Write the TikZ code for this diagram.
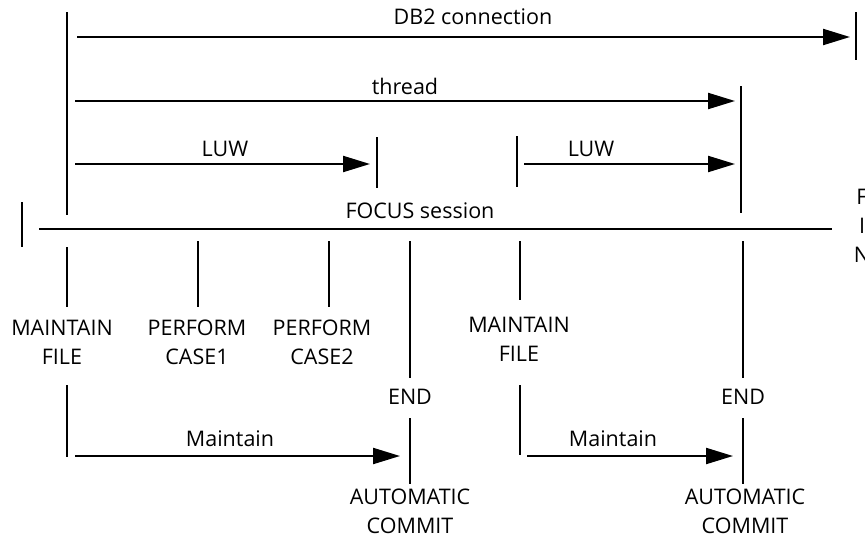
\documentclass[tikz,border=0pt]{standalone}
\usepackage{fontspec}
\setmainfont{Open Sans}
\usetikzlibrary{arrows.meta}
\begin{document}
\begin{tikzpicture}[x=1pt,y=-1pt,
  ln/.style={line width=2.2pt},
  arr/.style={line width=2.2pt,-{Triangle[length=27pt,width=16pt]}},
  lbl/.style={font=\fontsize{21.5}{29}\selectfont,align=center,inner sep=0pt}]
\useasboundingbox (0,0) rectangle (865,538);
% coordinates
\coordinate (mT) at (67,12);
\coordinate (mB) at (67,215);
\coordinate (dbS) at (77,37);
\coordinate (dbE) at (850,37);
\coordinate (dbT) at (856,12);
\coordinate (dbB) at (856,60);
\coordinate (thS) at (75,101);
\coordinate (thE) at (735,101);
\coordinate (thT) at (741,86);
\coordinate (thB) at (741,213);
\coordinate (l1S) at (75,164);
\coordinate (l1E) at (370,164);
\coordinate (l1T) at (377,137);
\coordinate (l1B) at (377,188);
\coordinate (l2T) at (517,136);
\coordinate (l2B) at (517,187);
\coordinate (l2S) at (524,164);
\coordinate (l2E) at (735,164);
\coordinate (sT) at (22,202);
\coordinate (sB) at (22,247);
\coordinate (fS) at (39,229);
\coordinate (fE) at (832,229);
% lines
\draw[ln] (mT) -- (mB);
\draw[arr] (dbS) -- (dbE);
\draw[ln] (dbT) -- (dbB);
\draw[arr] (thS) -- (thE);
\draw[ln] (thT) -- (thB);
\draw[arr] (l1S) -- (l1E);
\draw[ln] (l1T) -- (l1B);
\draw[ln] (l2T) -- (l2B);
\draw[arr] (l2S) -- (l2E);
\draw[ln] (sT) -- (sB);
\draw[ln] (fS) -- (fE);
% top labels
\node[lbl] (tdb) at (473,17) {DB2 connection};
\node[lbl] (tth) at (405,86) {thread};
\node[lbl] (tl1) at (225,149) {LUW};
\node[lbl] (tl2) at (591,149) {LUW};
\node[lbl] (tfs) at (420,211) {FOCUS session};
\node[lbl] (fin) at (862,226) {F\\I\\N};
% lower labels
\node[lbl] (mf1) at (62,342) {MAINTAIN\\FILE};
\node[lbl] (pc1) at (197,342) {PERFORM\\CASE1};
\node[lbl] (pc2) at (322,342) {PERFORM\\CASE2};
\node[lbl] (mf2) at (519,339) {MAINTAIN\\FILE};
\node[lbl] (end1) at (410,397) {END};
\node[lbl] (end2) at (743,397) {END};
\node[lbl] (ac1) at (410,511) {AUTOMATIC\\COMMIT};
\node[lbl] (ac2) at (745,511) {AUTOMATIC\\COMMIT};
\node[lbl] (mt1) at (230,439) {Maintain};
\node[lbl] (mt2) at (613,439) {Maintain};
% ticks
\draw[ln] (67,247) -- (67,307);
\draw[ln] (198,241) -- (198,307);
\draw[ln] (329,241) -- (329,307);
\draw[ln] (410,241) -- (410,378);
\draw[ln] (520,241) -- (520,300);
\draw[ln] (743,241) -- (743,378);
\draw[ln] (67,385) -- (67,457);
\draw[ln] (410,418) -- (410,484);
\draw[ln] (520,385) -- (520,455);
\draw[ln] (743,418) -- (743,484);
\draw[arr] (75,456) -- (400,456);
\draw[arr] (527,456) -- (733,456);
\end{tikzpicture}
\end{document}
